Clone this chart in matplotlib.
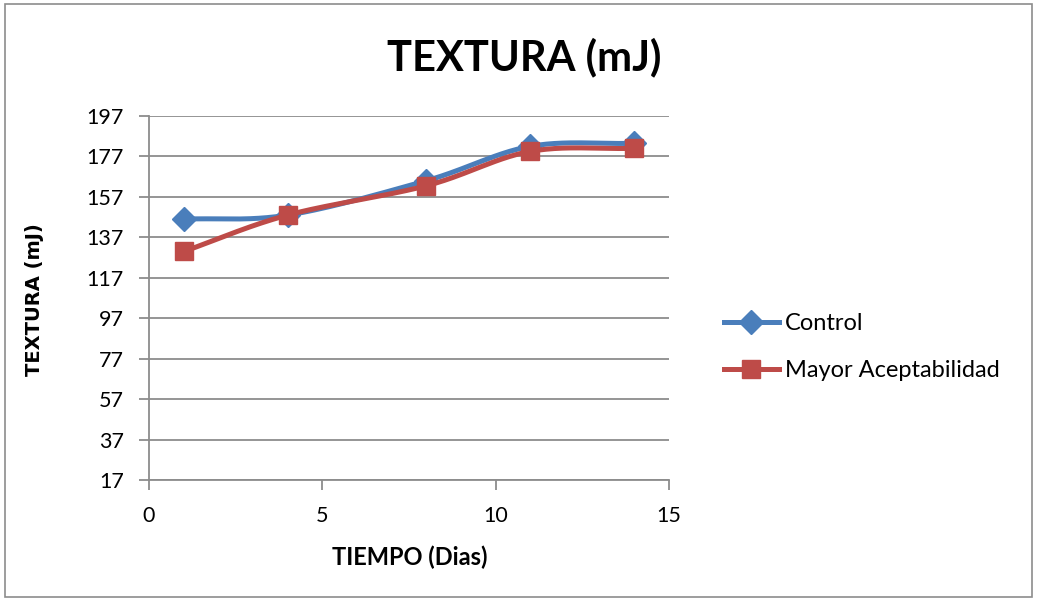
import numpy as np
import matplotlib
matplotlib.use("Agg")
import matplotlib.pyplot as plt
from matplotlib.patches import Rectangle

days = [1, 4, 8, 11, 14]
control = [146, 148, 165, 182, 183.5]
mayor = [130, 148, 162.5, 179.5, 181]
series_names = ["Control", "Mayor Aceptabilidad"]
yticks = [17, 37, 57, 77, 97, 117, 137, 157, 177, 197]
xticks = [0, 5, 10, 15]

plt.rcParams['font.family'] = ['Lato', 'DejaVu Sans']


def smooth(x, y, n=40):
    x = np.asarray(x, float)
    y = np.asarray(y, float)
    px = np.concatenate([[2 * x[0] - x[1]], x, [2 * x[-1] - x[-2]]])
    py = np.concatenate([[2 * y[0] - y[1]], y, [2 * y[-1] - y[-2]]])
    xs, ys = [], []
    for i in range(1, len(px) - 2):
        p0x, p1x, p2x, p3x = px[i - 1:i + 3]
        p0y, p1y, p2y, p3y = py[i - 1:i + 3]
        c1x = p1x + (p2x - p0x) / 6
        c1y = p1y + (p2y - p0y) / 6
        c2x = p2x - (p3x - p1x) / 6
        c2y = p2y - (p3y - p1y) / 6
        t = np.linspace(0, 1, n)
        bx = (1 - t) ** 3 * p1x + 3 * (1 - t) ** 2 * t * c1x + 3 * (1 - t) * t ** 2 * c2x + t ** 3 * p2x
        by = (1 - t) ** 3 * p1y + 3 * (1 - t) ** 2 * t * c1y + 3 * (1 - t) * t ** 2 * c2y + t ** 3 * p2y
        xs.append(bx)
        ys.append(by)
    return np.concatenate(xs), np.concatenate(ys)


fig = plt.figure(figsize=(10.37, 6.0), dpi=100)
fig.patches.append(Rectangle((0.005, 0.005), 0.99, 0.988, transform=fig.transFigure,
                             fill=False, edgecolor='#8c8c8c', linewidth=1.2))
ax = fig.add_axes([149 / 1037, 1 - 480 / 600, 520 / 1037, 364 / 600])

blue = '#4A7EBB'
red = '#BE4B48'
lw = 3.6

sx, sy = smooth(days, control)
ax.plot(sx, sy, color=blue, linewidth=lw, zorder=3, solid_capstyle='round')
ax.plot(days, control, linestyle='none', marker='D', markersize=12, color=blue, zorder=4)
sx2, sy2 = smooth(days, mayor)
ax.plot(sx2, sy2, color=red, linewidth=lw, zorder=5, solid_capstyle='round')
ax.plot(days, mayor, linestyle='none', marker='s', markersize=13, color=red, zorder=6)

ax.plot([], [], color=blue, linewidth=lw, marker='D', markersize=12, label=series_names[0])
ax.plot([], [], color=red, linewidth=lw, marker='s', markersize=13, label=series_names[1])

ax.set_xlim(0, 15)
ax.set_ylim(17, 197)
ax.set_xticks(xticks)
ax.set_yticks(yticks)
ax.yaxis.grid(True, color='#8c8c8c', linewidth=1.3)
ax.set_axisbelow(True)
for s in ['top', 'right']:
    ax.spines[s].set_visible(False)
for s in ['left', 'bottom']:
    ax.spines[s].set_color('#8c8c8c')
    ax.spines[s].set_linewidth(1.3)
ax.tick_params(axis='both', colors='#8c8c8c', length=7, width=1.3, labelcolor='black', labelsize=15.5)
ax.tick_params(axis='x', pad=12)
ax.tick_params(axis='y', pad=11)

ax.set_xlabel('TIEMPO (Dias)', fontsize=17, fontweight='bold')
ax.xaxis.label.set_va('center')
ax.xaxis.set_label_coords((410 - 149) / 520, (480 - 557) / 364)
ax.set_ylabel('TEXTURA (mJ)', fontsize=14, fontweight='bold', family=['DejaVu Sans'])
ax.yaxis.label.set_va('center')
ax.yaxis.set_label_coords((35 - 149) / 520, (480 - 300) / 364)

fig.text(524 / 1037, 1 - 57 / 600, 'TEXTURA (mJ)', fontsize=30, fontweight='bold',
         ha='center', va='center')

leg = ax.legend(loc='center left', bbox_to_anchor=(1.087, 0.365), frameon=False,
                fontsize=17, handlelength=2.33, labelspacing=1.1, handletextpad=0.25,
                borderaxespad=0)

fig.savefig('out.png', dpi=100)
